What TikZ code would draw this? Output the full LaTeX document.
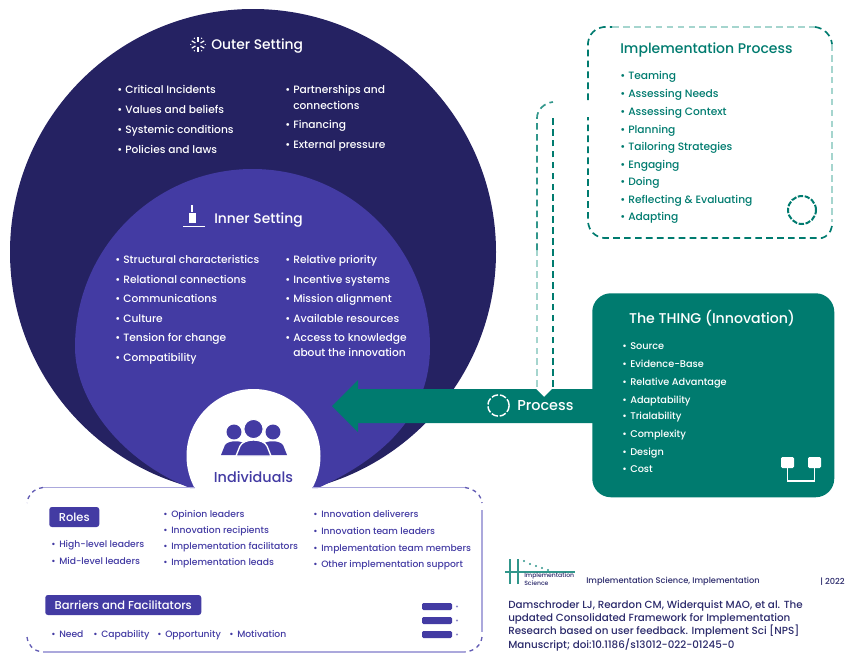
\documentclass[tikz,border=0pt]{standalone}
\usepackage{fontspec}
\setmainfont{Poppins}[UprightFont=* Medium,BoldFont=* SemiBold]
\definecolor{navy}{HTML}{252262}
\definecolor{violet}{HTML}{433BA3}
\definecolor{lilac}{HTML}{ABA8DC}
\definecolor{teal}{HTML}{007B6F}
\definecolor{lteal}{HTML}{A5D5CE}
\definecolor{citeblue}{HTML}{2B2A6B}
\tikzset{
  x=0.75pt,y=-0.75pt,
  head/.style={font=\fontsize{10.4pt}{11pt}\selectfont,anchor=west,inner sep=0pt},
  itm/.style={font=\fontsize{8pt}{9.6pt}\selectfont,anchor=west,inner sep=0pt,align=left,text height=8pt,text depth=2pt},
  wt/.style={itm,text=white},
  wttwo/.style={font=\fontsize{8pt}{9.6pt}\selectfont,anchor=west,inner sep=0pt,align=left,text=white},
  tht/.style={itm,text=white,font=\fontsize{7.3pt}{9.6pt}\selectfont},
  gt/.style={itm,text=teal},
  vt/.style={itm,text=violet,font=\fontsize{6.9pt}{9.4pt}\selectfont},
  tag/.style={fill=violet,text=white,rounded corners=2pt,font=\fontsize{8.6pt}{9pt}\selectfont,inner sep=0pt,anchor=west,minimum height=15pt},
  dashloop/.style={dash pattern=on 5pt off 3.2pt,line width=1.25pt},
  cornerdash/.style={violet!70!lilac,line width=1pt,dash pattern=on 3pt off 3pt},
  boxline/.style={lilac,line width=1.2pt},
}
\newcommand{\bul}{\makebox[6pt][l]{\textbullet}}
\begin{document}
\begin{tikzpicture}
\useasboundingbox (0,0) rectangle (865,653);
% outer and inner settings
\begin{scope}
\clip (0,0) rectangle (865,488);
\fill[navy] (253,252) circle [radius=243*0.75pt];
\end{scope}
\fill[violet] (75,347) .. controls (75,248) and (155,169) .. (252.5,169)
  .. controls (350,169) and (430,248) .. (430,347)
  .. controls (430,410) and (390,455) .. (318,488) -- (190,488)
  .. controls (120,460) and (75,400) .. (75,347) -- cycle;
\fill[white] (253.5,456) circle [radius=67*0.75pt];
% outer setting text
\node[head,text=white] (outerhead) at (211,46) {Outer Setting};
\foreach \aa in {0,60,...,300}{
  \draw[white,line width=0.9pt] (198,44.5) ++(\aa+30:2.2pt) -- ++(\aa+30:3.2pt);
  \fill[white] (198,44.5) ++(\aa:5.4pt) circle [radius=0.5pt];
}
\node[wt] (o1) at (117,89) {\bul Critical Incidents};
\node[wt] (o2) at (117,109) {\bul Values and beliefs};
\node[wt] (o3) at (117,129) {\bul Systemic conditions};
\node[wt] (o4) at (117,149) {\bul Policies and laws};
\node[wttwo] (o5) at (285,97) {\bul Partnerships and\\[2.4pt]\hspace{6pt}connections};
\node[wt] (o6) at (285,124) {\bul Financing};
\node[wt] (o7) at (285,144) {\bul External pressure};
% inner setting text
\node[head,text=white] (innerhead) at (214,220) {Inner Setting};
\fill[white] (183,225.5) rectangle (205,227);
\fill[white] (188.5,213) rectangle (195.5,223);
\fill[white] (191,205) rectangle (193,212);
\node[wt] (i1) at (115,259) {\bul Structural characteristics};
\node[wt] (i2) at (115,279) {\bul Relational connections};
\node[wt] (i3) at (115,298) {\bul Communications};
\node[wt] (i4) at (115,318) {\bul Culture};
\node[wt] (i5) at (115,337) {\bul Tension for change};
\node[wt] (i6) at (115,357) {\bul Compatibility};
\node[wt] (i7) at (285,259) {\bul Relative priority};
\node[wt] (i8) at (285,279) {\bul Incentive systems};
\node[wt] (i9) at (285,298) {\bul Mission alignment};
\node[wt] (i10) at (285,318) {\bul Available resources};
\node[wttwo] (i11) at (285,345.5) {\bul Access to knowledge\\[1.6pt]\hspace{6pt}about the innovation};
% individuals
\foreach \cx/\xa in {234/221, 273/258}{
  \fill[violet] (\cx,432) circle [radius=5.6pt];
  \fill[violet] (\xa,455) -- (\xa+4,445) .. controls (\xa+8,440) and (\xa+21,440) .. (\xa+25,445) -- (\xa+29,455) -- cycle;
}
\draw[white,line width=0.8pt,fill=violet] (253.5,429) circle [radius=7.2pt];
\draw[white,line width=1pt,fill=violet] (236,456) -- (240,446) .. controls (244,438) and (263,438) .. (267,446) -- (271,456) -- cycle;
\node[font=\fontsize{10.8pt}{11pt}\selectfont,text=violet,inner sep=0pt] (indiv) at (253.5,477) {Individuals};
% bottom box
\draw[boxline] (195,487.5) -- (43,487.5);
\draw[boxline] (312,487.5) -- (465,487.5);
\draw[boxline] (482,510) -- (482,632);
\draw[boxline] (43,652) -- (465,652);
\draw[cornerdash] (43,487.5) .. controls (33,489) and (28,495) .. (27,503);
\draw[cornerdash] (465,487.5) .. controls (475,489) and (481,495) .. (482,503);
\draw[cornerdash] (27,637) .. controls (28,645) and (33,651) .. (43,652);
\draw[cornerdash] (482,637) .. controls (481,645) and (475,651) .. (465,652);
\node[tag,minimum width=37.5pt,align=center] (roles) at (49,517) {Roles};
\node[tag,minimum width=117pt,align=center] (barriers) at (45,605) {Barriers and Facilitators};
\node[vt] (r1) at (51,543) {\bul High-level leaders};
\node[vt] (r2) at (51,560) {\bul Mid-level leaders};
\node[vt] (r3) at (163,513) {\bul Opinion leaders};
\node[vt] (r4) at (163,529) {\bul Innovation recipients};
\node[vt] (r5) at (163,545) {\bul Implementation facilitators};
\node[vt] (r6) at (163,561) {\bul Implementation leads};
\node[vt] (r7) at (313,513) {\bul Innovation deliverers};
\node[vt] (r8) at (313,530) {\bul Innovation team leaders};
\node[vt] (r9) at (313,547) {\bul Implementation team members};
\node[vt] (r10) at (313,563) {\bul Other implementation support};
\node[vt] (b1) at (51,633) {\bul Need};
\node[vt] (b2) at (93,633) {\bul Capability};
\node[vt] (b3) at (157,633) {\bul Opportunity};
\node[vt] (b4) at (229,633) {\bul Motivation};
\foreach \yy in {606.5,620.5,634.5}{
  \fill[violet,rounded corners=1pt] (422,\yy-3.5) rectangle (452,\yy+3.5);
  \fill[violet!60!white] (457,\yy) circle [radius=0.8pt];
}
% implementation process
\draw[lteal,dashloop] (612,27) -- (815,27);
\draw[lteal,dashloop] (832,44) -- (832,222);
\draw[teal,dashloop] (815,27) .. controls (824,28) and (831,35) .. (832,44);
\draw[teal,dashloop] (832,226) .. controls (831,233) and (826,237) .. (822,238) -- (604,238) .. controls (595,237) and (589,231) .. (588,222) -- (588,117);
\draw[teal,dashloop] (588,100) -- (588,43) .. controls (589,34) and (595,28) .. (604,27) -- (612,27);
\node[font=\fontsize{10.5pt}{11pt}\selectfont,text=teal,inner sep=0pt,anchor=west] (implhead) at (620,50) {Implementation Process};
\node[gt] (p1) at (620,75) {\bul Teaming};
\node[gt] (p2) at (620,93) {\bul Assessing Needs};
\node[gt] (p3) at (620,111) {\bul Assessing Context};
\node[gt] (p4) at (620,129) {\bul Planning};
\node[gt] (p5) at (620,146) {\bul Tailoring Strategies};
\node[gt] (p6) at (620,164) {\bul Engaging};
\node[gt] (p7) at (620,181) {\bul Doing};
\node[gt] (p8) at (620,199) {\bul Reflecting \& Evaluating};
\node[gt] (p9) at (620,216) {\bul Adapting};
\draw[teal,line width=1.5pt,dash pattern=on 4pt off 1.2pt] (802,210) circle [radius=10.5pt];
% the thing
\node[fill=teal,rounded corners=14pt,minimum width=181.5pt,minimum height=153pt,inner sep=0pt,anchor=north west] (thing) at (592,293) {};
% arrow
\fill[teal] (332,406) -- (358,380) -- (358,389) -- (536,389) -- (544,397) -- (552,389) -- (593,389) -- (593,423) -- (358,423) -- (358,432) -- cycle;
\draw[white,line width=1.1pt,dash pattern=on 5pt off 1.4pt] (498.5,405.5) circle [radius=8pt];
\node[font=\fontsize{10.8pt}{11pt}\selectfont,text=white,inner sep=0pt,anchor=west] (proc) at (517,405.5) {Process};
% dashed loop
\draw[lteal,dashloop] (537,387) -- (537,250);
\draw[teal!70!lteal,dashloop] (537,250) -- (537,118) .. controls (537,110) and (544,103) .. (553,102);
\draw[teal,dashloop] (553,387) -- (553,118);
% thing text
\node[font=\fontsize{10.6pt}{11pt}\selectfont,text=white,inner sep=0pt,anchor=center] (thinghead) at (712,318) {The THING (Innovation)};
\node[tht] (t1) at (622,345) {\bul Source};
\node[tht] (t2) at (622,363) {\bul Evidence-Base};
\node[tht] (t3) at (622,381) {\bul Relative Advantage};
\node[tht] (t4) at (622,399) {\bul Adaptability};
\node[tht] (t5) at (622,415) {\bul Trialability};
\node[tht] (t6) at (622,433) {\bul Complexity};
\node[tht] (t7) at (622,451) {\bul Design};
\node[tht] (t8) at (622,468) {\bul Cost};
\fill[white,rounded corners=1pt] (781,457) rectangle (794,468);
\fill[white,rounded corners=1pt] (808,457) rectangle (821,468);
\draw[white,line width=0.9pt] (787.5,468) -- (787.5,481) -- (814.5,481) -- (814.5,468);
% logo
\draw[teal!70!lteal,line width=1.4pt] (505,572) -- (575,572);
\draw[teal!70!lteal,line width=1.4pt] (510,559) -- (510,584);
\draw[teal!70!lteal,line width=1.4pt] (518,559) -- (518,584);
\foreach \xx/\yy in {524/561,530/564,536/566,542/568,548/570}{\fill[teal!70!lteal] (\xx,\yy) circle [radius=0.8pt];}
\node[font=\fontsize{4.6pt}{4.6pt}\selectfont,text=citeblue,inner sep=0pt,anchor=west,align=left] (logotext) at (524,579) {Implementation\\Science};
\node[font=\fontsize{6.2pt}{7pt}\selectfont,text=citeblue,inner sep=0pt,anchor=west] (src) at (586,581.5) {Implementation Science, Implementation};
\node[font=\fontsize{6.2pt}{7pt}\selectfont,text=citeblue,inner sep=0pt,anchor=west] (src2) at (820,581.5) {| 2022};
\node[font=\fontsize{7.75pt}{10pt}\selectfont,text=citeblue,inner sep=0pt,anchor=north west,align=left] (cite) at (508,600) {Damschroder LJ, Reardon CM, Widerquist MAO, et al. The\\updated Consolidated Framework for Implementation\\Research based on user feedback. Implement Sci [NPS]\\Manuscript; doi:10.1186/s13012-022-01245-0};
\end{tikzpicture}
\end{document}
